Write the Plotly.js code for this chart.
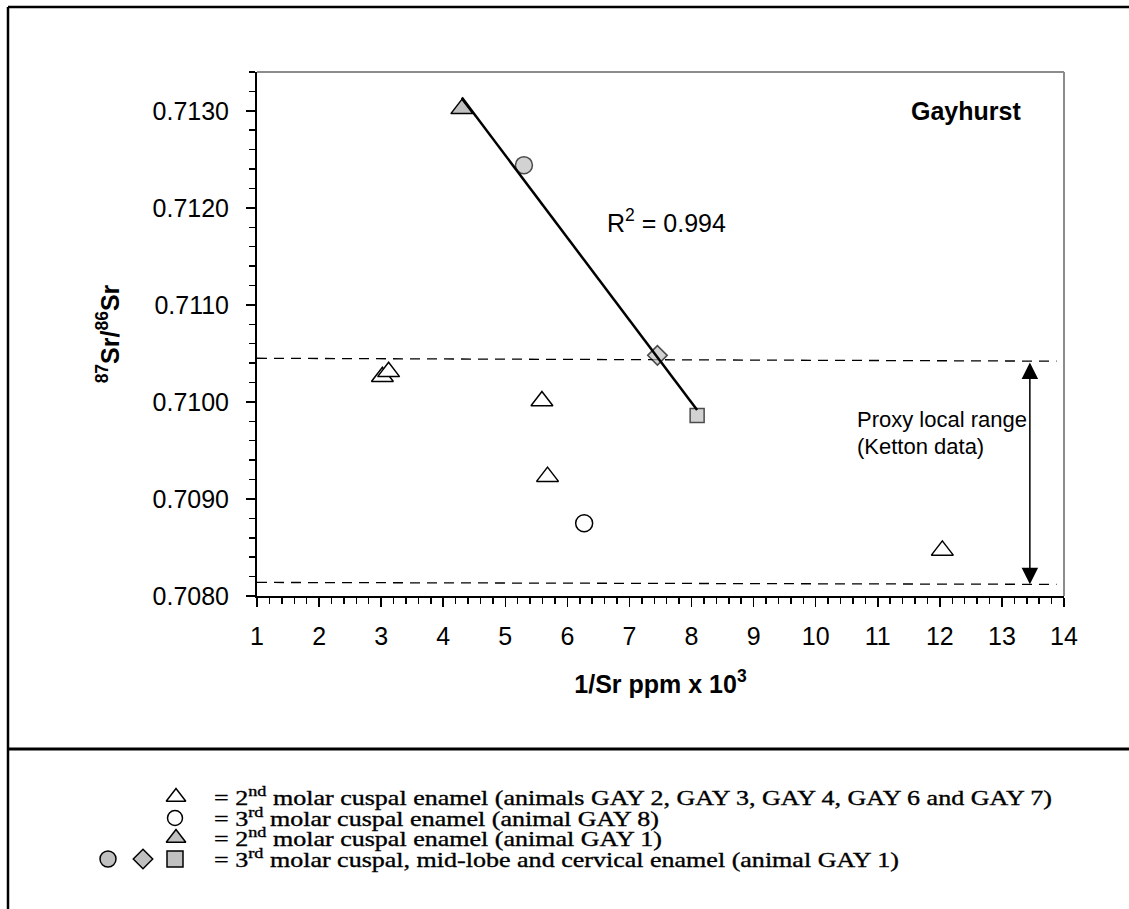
<!DOCTYPE html>
<html><head><meta charset="utf-8">
<script src="https://cdn.plot.ly/plotly-3.0.1.min.js"></script>
<style>
html,body{margin:0;padding:0;background:#fff;}
#chart{width:1129px;height:909px;}
/* legend lines of the reference are set in a horizontally wide, dark serif */
text.annotation-text[style*="Liberation Serif"]{transform-box:fill-box;transform-origin:0 50%;transform:scaleX(1.24);stroke:#000;stroke-width:0.35px;}
</style>
</head><body><div id="chart"></div>
<script>
// ---------------- DATA ----------------
// 2nd molar cuspal enamel (animals GAY 2, 3, 4, 6, 7)
const m2OthersX = [3.02, 3.12, 5.59, 5.68, 12.04];
const m2OthersY = [0.71026, 0.71031, 0.71001, 0.70923, 0.70847];
// 3rd molar cuspal enamel (animal GAY 8)
const m3Gay8X = [6.27];
const m3Gay8Y = [0.70875];
// 2nd molar cuspal enamel (animal GAY 1)
const m2Gay1X = [4.30];
const m2Gay1Y = [0.71302];
// 3rd molar cuspal, mid-lobe and cervical enamel (animal GAY 1)
const m3Gay1X = [5.30, 7.45, 8.09];
const m3Gay1Y = [0.71244, 0.71048, 0.70986];
// Proxy local range (Ketton data) dashed bounds
const proxyX = [1, 13.88];
const proxyUpperY = [0.71045, 0.71042];
const proxyLowerY = [0.70814, 0.70812];
const proxyArrowX = 13.45;
const rSquaredLabel = 'R<sup>2</sup> = 0.994';
const siteLabel = 'Gayhurst';
const legendTexts = [
  '= 2<sup>nd</sup> molar cuspal enamel (animals GAY 2, GAY 3, GAY 4, GAY 6 and GAY 7)',
  '= 3<sup>rd</sup> molar cuspal enamel (animal GAY 8)',
  '= 2<sup>nd</sup> molar cuspal enamel (animal GAY 1)',
  '= 3<sup>rd</sup> molar cuspal, mid-lobe and cervical enamel (animal GAY 1)'
];

// ---------------- derived: least-squares line for GAY 1 ----------------
const gay1X = m2Gay1X.concat(m3Gay1X);
const gay1Y = m2Gay1Y.concat(m3Gay1Y);
function linFit(xs, ys){
  const n = xs.length;
  const mx = xs.reduce((a,b)=>a+b,0)/n, my = ys.reduce((a,b)=>a+b,0)/n;
  let sxy=0, sxx=0;
  for(let i=0;i<n;i++){ sxy += (xs[i]-mx)*(ys[i]-my); sxx += (xs[i]-mx)*(xs[i]-mx); }
  const b = sxy/sxx; return {a: my - b*mx, b: b};
}
const fit = linFit(gay1X, gay1Y);
const fitX = [Math.min(...gay1X), Math.max(...gay1X)];
const fitY = fitX.map(x => fit.a + fit.b*x);
function interp(xs, ys, x){ return ys[0] + (ys[1]-ys[0])*(x-xs[0])/(xs[1]-xs[0]); }

// ---------------- LAYOUT / STYLE ----------------
const W = 1129, H = 909;
const px = x => x / W;
const py = y => 1 - y / H;
const SANS = 'Liberation Sans, Arial, sans-serif';
const SERIF = 'Liberation Serif, Times New Roman, serif';
const GRAY = '#c0c0c0';
const mk = (sym, fill, size) => ({symbol: sym, size: size, color: fill, line: {color: '#000', width: 1.5}});

const traces = [
  {x: proxyX, y: proxyUpperY, mode: 'lines', line: {color: '#000', width: 1.3, dash: '10px,7px'}, xaxis: 'x', yaxis: 'y', hoverinfo: 'skip'},
  {x: proxyX, y: proxyLowerY, mode: 'lines', line: {color: '#000', width: 1.3, dash: '10px,7px'}, xaxis: 'x', yaxis: 'y', hoverinfo: 'skip'},
  {x: m2OthersX, y: m2OthersY, mode: 'markers', marker: mk('triangle-up', '#fff', 19), cliponaxis: false},
  {x: m3Gay8X, y: m3Gay8Y, mode: 'markers', marker: mk('circle', '#fff', 17), cliponaxis: false},
  {x: m2Gay1X, y: m2Gay1Y, mode: 'markers', marker: mk('triangle-up', GRAY, 19), cliponaxis: false},
  {x: m3Gay1X, y: m3Gay1Y, mode: 'markers', marker: {symbol: ['circle','diamond','square'], size: [17, 15, 14], color: GRAY, line: {color: '#000', width: 1.5}}, cliponaxis: false},
  {x: fitX, y: fitY, mode: 'lines', line: {color: '#000', width: 2.5}, cliponaxis: false}
];

// legend keys drawn on a hidden pixel-mapped axis pair
const keyRowsY = [797, 818, 838, 859];
const keyTraces = [
  {pos: [[176, keyRowsY[0]]], sym: 'triangle-up', fill: '#fff', size: 17},
  {pos: [[175, keyRowsY[1]]], sym: 'circle', fill: '#fff', size: 15},
  {pos: [[176, keyRowsY[2]]], sym: 'triangle-up', fill: GRAY, size: 17},
  {pos: [[108, keyRowsY[3]]], sym: 'circle', fill: GRAY, size: 16},
  {pos: [[143, keyRowsY[3]]], sym: 'diamond', fill: GRAY, size: 15},
  {pos: [[175, keyRowsY[3]]], sym: 'square', fill: GRAY, size: 16}
];
keyTraces.forEach(k => traces.push({
  x: k.pos.map(p => p[0]), y: k.pos.map(p => p[1]), xaxis: 'x2', yaxis: 'y2',
  mode: 'markers', marker: mk(k.sym, k.fill, k.size), hoverinfo: 'skip', cliponaxis: false
}));

const tickFont = {family: SANS, size: 25, color: '#000'};
const axisCommon = {
  showgrid: false, zeroline: false, showline: true, linecolor: '#000', linewidth: 2,
  ticks: 'outside', ticklen: 9, tickwidth: 1.5, tickcolor: '#000', tickfont: tickFont
};

const annotations = [
  {xref: 'paper', yref: 'paper', x: px(1023), y: py(110.5), xanchor: 'right', yanchor: 'middle', showarrow: false,
   text: '<b>' + siteLabel + '</b>', font: {family: SANS, size: 25, color: '#000'}},
  {xref: 'paper', yref: 'paper', x: px(605), y: py(221), xanchor: 'left', yanchor: 'middle', showarrow: false,
   text: rSquaredLabel, font: {family: SANS, size: 25, color: '#000'}},
  {xref: 'paper', yref: 'paper', x: px(855), y: py(419), xanchor: 'left', yanchor: 'middle', showarrow: false,
   text: 'Proxy local range', font: {family: SANS, size: 22, color: '#000'}},
  {xref: 'paper', yref: 'paper', x: px(855), y: py(446), xanchor: 'left', yanchor: 'middle', showarrow: false,
   text: '(Ketton data)', font: {family: SANS, size: 22, color: '#000'}},
  {xref: 'x', yref: 'y', axref: 'x', ayref: 'y',
   x: proxyArrowX, y: interp(proxyX, proxyLowerY, proxyArrowX),
   ax: proxyArrowX, ay: interp(proxyX, proxyUpperY, proxyArrowX),
   text: '', showarrow: true, arrowside: 'end+start', arrowhead: 2, startarrowhead: 2,
   arrowsize: 2.2, startarrowsize: 2.2, arrowwidth: 1.5, arrowcolor: '#000', standoff: 0, startstandoff: 0}
];
legendTexts.forEach((t, i) => annotations.push({
  xref: 'paper', yref: 'paper', x: px(212), y: py(keyRowsY[i] - 1), xanchor: 'left', yanchor: 'middle',
  showarrow: false, text: t, font: {family: SERIF, size: 21, color: '#000'}
}));

const shapes = [
  // outer frame (top, left) and separator
  {type: 'line', xref: 'paper', yref: 'paper', x0: px(8), x1: 1, y0: py(7), y1: py(7), line: {color: '#000', width: 2.5}},
  {type: 'line', xref: 'paper', yref: 'paper', x0: px(8), x1: px(8), y0: py(7), y1: 0, line: {color: '#000', width: 2.5}},
  {type: 'line', xref: 'paper', yref: 'paper', x0: px(8), x1: 1, y0: py(749), y1: py(749), line: {color: '#000', width: 3}},
  // plot area border (top & right, gray)
  {type: 'line', xref: 'x domain', yref: 'y domain', x0: 0, x1: 1, y0: 1, y1: 1, line: {color: '#8c8c8c', width: 2}},
  {type: 'line', xref: 'x domain', yref: 'y domain', x0: 1, x1: 1, y0: 0, y1: 1, line: {color: '#8c8c8c', width: 2}}
];

const layout = {
  width: W, height: H, margin: {l: 0, r: 0, t: 0, b: 0},
  paper_bgcolor: '#fff', plot_bgcolor: 'rgba(0,0,0,0)', showlegend: false,
  font: {family: SANS, color: '#000'},
  xaxis: Object.assign({}, axisCommon, {
    domain: [px(257), px(1064)], anchor: 'y', range: [1, 14], tick0: 1, dtick: 1,
    ticklabelstandoff: 8,
    minor: {dtick: 0.2, ticks: 'outside', ticklen: 6, tickwidth: 1.5, tickcolor: '#000', showgrid: false},
    title: {text: '<b>1/Sr ppm x 10<sup>3</sup></b>', font: {family: SANS, size: 25, color: '#000'}, standoff: 26}
  }),
  yaxis: Object.assign({}, axisCommon, {
    domain: [py(596), py(72)], anchor: 'x', range: [0.708, 0.7134], tick0: 0.708, dtick: 0.001,
    tickformat: '.4f', ticklabelstandoff: 12,
    minor: {dtick: 0.0002, ticks: 'outside', ticklen: 6, tickwidth: 1.5, tickcolor: '#000', showgrid: false},
    title: {text: '<b><sup>87</sup>Sr/<sup>86</sup>Sr</b>', font: {family: SANS, size: 25, color: '#000'}, standoff: 26}
  }),
  xaxis2: {domain: [0, 1], range: [0, W], anchor: 'y2', visible: false, fixedrange: true},
  yaxis2: {domain: [0, 1], range: [H, 0], anchor: 'x2', visible: false, fixedrange: true},
  shapes: shapes,
  annotations: annotations
};

Plotly.newPlot('chart', traces, layout, {staticPlot: true, displayModeBar: false});
</script></body></html>
